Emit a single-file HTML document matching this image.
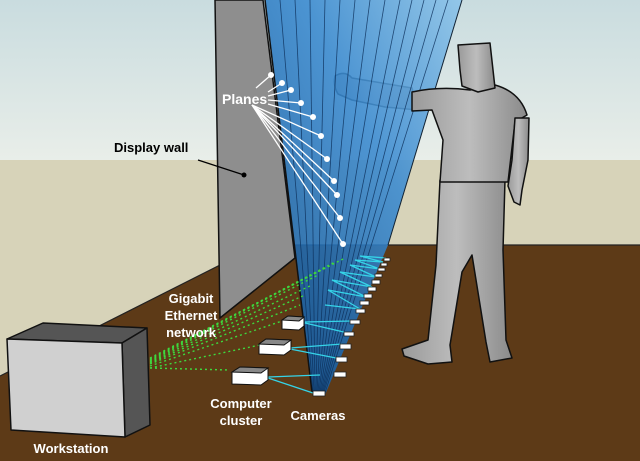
<!DOCTYPE html>
<html><head><meta charset="utf-8"><style>
html,body{margin:0;padding:0;background:#fff}
svg{display:block}
text{font-family:"Liberation Sans",sans-serif;font-weight:bold}
</style></head><body>
<svg width="640" height="461" viewBox="0 0 640 461" xmlns="http://www.w3.org/2000/svg">
<defs>
<linearGradient id="sky" x1="0" y1="0" x2="0" y2="1">
<stop offset="0" stop-color="#c9dcdf"/><stop offset="1" stop-color="#e9eee9"/></linearGradient>
<linearGradient id="fan" x1="1" y1="0" x2="0" y2="1">
<stop offset="0" stop-color="#8cc4ea"/><stop offset="0.4" stop-color="#3a8ad0"/><stop offset="1" stop-color="#0a4f94"/></linearGradient>
<linearGradient id="body" x1="0" y1="0" x2="1" y2="0">
<stop offset="0" stop-color="#9a9a9a"/><stop offset="0.5" stop-color="#bdbdbd"/><stop offset="1" stop-color="#8a8a8a"/></linearGradient>
</defs>
<rect width="640" height="161" fill="url(#sky)"/>
<rect y="160" width="640" height="301" fill="#d7d3b9"/>
<polygon points="0,376 150,300 222,264 292,245 640,245 640,461 0,461" fill="#5d3a17"/>
<line x1="0" y1="376" x2="222" y2="264" stroke="#222" stroke-width="1.2"/>
<line x1="292" y1="245" x2="640" y2="245" stroke="#222" stroke-width="1.2"/>
<polygon points="215,0 263,0 295,258 220,318" fill="#8e8e8e" stroke="#111" stroke-width="1.5"/>
<!-- forearm behind fan -->
<g fill="url(#body)" stroke="#111" stroke-width="1.5" stroke-linejoin="round">
<path d="M335,76 Q345,70 352,78 L412,88 L418,110 L385,107 L352,100 L338,94 Q333,86 335,76 Z"/>
</g>
<polygon points="265,0 462,0 388,245 325,395 312,392" fill="url(#fan)" opacity="0.88"/>
<g stroke="#0c2f5a" stroke-width="0.8" fill="none" opacity="0.8">
<line x1="280" y1="0" x2="313" y2="392"/><line x1="295" y1="0" x2="314" y2="392"/>
<line x1="310" y1="0" x2="315" y2="392"/><line x1="325" y1="0" x2="316" y2="392"/>
<line x1="340" y1="0" x2="317" y2="392"/><line x1="355" y1="0" x2="318" y2="392"/>
<line x1="370" y1="0" x2="319" y2="392"/><line x1="385" y1="0" x2="320" y2="392"/>
<line x1="400" y1="0" x2="321" y2="392"/><line x1="412" y1="0" x2="322" y2="392"/>
<line x1="424" y1="0" x2="323" y2="392"/><line x1="436" y1="0" x2="324" y2="392"/>
<line x1="448" y1="0" x2="325" y2="393"/>
</g>
<line x1="265" y1="0" x2="312" y2="392" stroke="#111" stroke-width="1.5"/>
<line x1="462" y1="0" x2="388" y2="245" stroke="#123" stroke-width="1"/>
<!-- person in front -->
<g fill="url(#body)" stroke="#111" stroke-width="1.5" stroke-linejoin="round">
<path d="M440,180 L505,180 L503,250 L506,340 L512,358 L490,362 L486,342 L472,255 L462,272 L450,345 L452,362 L428,364 L404,356 L402,349 L428,340 L436,265 Z"/>
<path d="M412,92 Q440,86 470,90 L495,85 Q520,92 527,115 L515,122 L508,182 L440,182 L443,140 L432,110 L412,111 Z"/>
<path d="M515,118 L529,118 L528,160 L522,190 L520,205 L514,202 L508,186 L512,160 Z"/>
<path d="M458,45 L490,43 L495,88 L478,92 L462,86 L460,70 Z"/>
</g>
<g stroke="#3ed83e" stroke-width="1.4" stroke-dasharray="2,3" fill="none">
<line x1="150" y1="368" x2="230" y2="370"/><line x1="150" y1="368" x2="260" y2="345"/>
<line x1="150" y1="366" x2="285" y2="320"/><line x1="150" y1="364" x2="300" y2="305"/>
<line x1="150" y1="363" x2="305" y2="295"/><line x1="150" y1="362" x2="312" y2="285"/>
<line x1="150" y1="361" x2="318" y2="275"/><line x1="150" y1="360" x2="325" y2="268"/>
<line x1="150" y1="359" x2="335" y2="262"/><line x1="150" y1="358" x2="345" y2="258"/>
</g>
<g stroke="#35d4e8" stroke-width="1.3" fill="none">
<polyline points="268,377 320,375"/><polyline points="268,378 316,394"/>
<polyline points="290,348 342,344"/><polyline points="290,349 336,358"/>
<polyline points="305,322 352,321"/><polyline points="305,323 348,333"/>
<polyline points="325,305 360,309 328,290 366,297 332,280 372,287 340,272 376,277 350,265 380,269 355,260 383,262 360,256 386,258"/>
</g>
<g fill="#fff" stroke="#222" stroke-width="0.8">
<rect x="313" y="391" width="12" height="5"/><rect x="334" y="372" width="12" height="5"/>
<rect x="336" y="357" width="11" height="5"/><rect x="340" y="344" width="11" height="5"/>
<rect x="344" y="332" width="10" height="4"/><rect x="350" y="320" width="10" height="4"/>
<rect x="356" y="309" width="9" height="4"/><rect x="360" y="301" width="9" height="4"/>
<rect x="364" y="294" width="8" height="4"/><rect x="368" y="287" width="8" height="4"/>
<rect x="372" y="280" width="8" height="4"/><rect x="375" y="274" width="7" height="3"/>
<rect x="378" y="268" width="7" height="3"/><rect x="381" y="263" width="6" height="3"/>
<rect x="384" y="258" width="6" height="3"/>
</g>
<g stroke="#111" stroke-width="1">
<polygon points="232,372 240,367 268,368 268,380 261,385 232,384" fill="#fff"/>
<polygon points="232,372 240,367 268,368 261,373" fill="#888"/>
<polygon points="259,344 266,339 291,340 291,350 284,355 259,354" fill="#fff"/>
<polygon points="259,344 266,339 291,340 284,345" fill="#888"/>
<polygon points="282,320 288,316 304,317 304,326 299,330 282,329" fill="#fff"/>
<polygon points="282,320 288,316 304,317 299,321" fill="#888"/>
</g>
<g stroke="#111" stroke-width="1.5" stroke-linejoin="round">
<polygon points="7,339 43,323 147,328 122,343" fill="#555"/>
<polygon points="122,343 147,328 150,425 125,437" fill="#555"/>
<polygon points="7,339 122,343 125,437 11,430" fill="#d0d0d0"/>
</g>
<g stroke="#fff" stroke-width="1.3">
<line x1="256" y1="88" x2="271" y2="75"/><line x1="268" y1="92" x2="282" y2="83"/>
<line x1="268" y1="96" x2="291" y2="90"/><line x1="268" y1="100" x2="301" y2="103"/>
<line x1="268" y1="104" x2="313" y2="117"/><line x1="252" y1="105" x2="321" y2="136"/>
<line x1="252" y1="105" x2="327" y2="159"/><line x1="252" y1="105" x2="334" y2="181"/>
<line x1="252" y1="105" x2="337" y2="195"/><line x1="252" y1="105" x2="340" y2="218"/>
<line x1="252" y1="105" x2="343" y2="244"/>
</g>
<g fill="#fff">
<circle cx="271" cy="75" r="3"/><circle cx="282" cy="83" r="3"/><circle cx="291" cy="90" r="3"/>
<circle cx="301" cy="103" r="3"/><circle cx="313" cy="117" r="3"/><circle cx="321" cy="136" r="3"/>
<circle cx="327" cy="159" r="3"/><circle cx="334" cy="181" r="3"/><circle cx="337" cy="195" r="3"/>
<circle cx="340" cy="218" r="3"/><circle cx="343" cy="244" r="3"/>
</g>
<line x1="198" y1="160" x2="244" y2="175" stroke="#000" stroke-width="1.2"/>
<circle cx="244" cy="175" r="2.5" fill="#000"/>
<text x="222" y="104" font-size="14" fill="#fff">Planes</text>
<text x="114" y="152" font-size="13" fill="#000">Display wall</text>
<g font-size="13" fill="#fff" text-anchor="middle">
<text x="191" y="303">Gigabit</text><text x="191" y="320">Ethernet</text><text x="191" y="337">network</text>
<text x="71" y="453">Workstation</text>
<text x="241" y="408">Computer</text><text x="241" y="425">cluster</text>
<text x="318" y="420">Cameras</text>
</g>
</svg>
</body></html>
